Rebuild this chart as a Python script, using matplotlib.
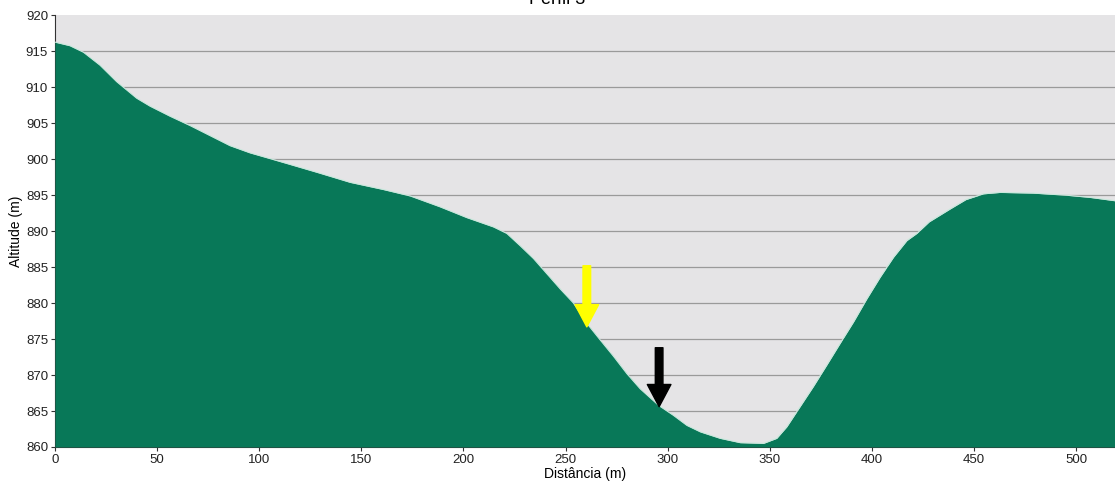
import numpy as np
import matplotlib.pyplot as plt

plt.rcParams['font.family'] = ['Liberation Sans', 'DejaVu Sans']

# elevation profile
distancia = [0, 7.3, 13.9, 22, 30.2, 40, 46.5, 56.3, 66.1, 75.9, 85.7, 95.5, 105.3,
             115, 128.2, 144.5, 160.8, 174, 188.5, 201.6, 214.7, 221.2, 227.7,
             234.3, 240.8, 247.3, 253.9, 260.4, 266.9, 273.5, 280, 286.5, 295.5,
             302.8, 309.4, 316, 325.7, 335.5, 346.9, 353.4, 358.3, 364.8, 371.3,
             377.9, 384.4, 391, 397.5, 404, 410.6, 417.1, 422, 428, 438.3, 446,
             454.6, 462.8, 479, 495.5, 506.9, 520]
altitude = [916.3, 915.8, 914.9, 913.1, 910.8, 908.5, 907.4, 906.0, 904.7, 903.3,
            901.9, 900.9, 900.1, 899.3, 898.2, 896.8, 895.8, 894.9, 893.4, 891.9,
            890.6, 889.7, 888.0, 886.2, 884.1, 882.0, 880.0, 877.2, 874.9, 872.6,
            870.2, 868.1, 865.8, 864.4, 863.0, 862.1, 861.2, 860.6, 860.5, 861.2,
            862.8, 865.6, 868.4, 871.4, 874.4, 877.4, 880.6, 883.6, 886.4, 888.7,
            889.7, 891.3, 893.1, 894.4, 895.2, 895.4, 895.3, 895.0, 894.7, 894.2]

# markers pointing at the slope: (distance, top, tip)
seta_amarela = (260.4, 885.2, 876.7)
seta_preta = (295.8, 873.8, 865.6)

xticks = [0, 50, 100, 150, 200, 250, 300, 350, 400, 450, 500]
yticks = [860, 865, 870, 875, 880, 885, 890, 895, 900, 905, 910, 915, 920]

fig = plt.figure(figsize=(11.15, 4.92), dpi=100)
ax = fig.add_axes([0.0493, 0.0915, 0.9507, 0.877])
ax.set_facecolor('#e5e4e6')

ax.fill_between(distancia, altitude, 860, color='#087858', lw=0, zorder=3)
ax.plot(distancia, altitude, color='#c8e8dc', lw=0.8, zorder=3,
        solid_joinstyle='round')

for y in yticks[1:-1]:
    ax.axhline(y, color='#9a9a9a', lw=0.9, zorder=1)

for (x, topo, ponta), cor in [(seta_amarela, '#ffff00'), (seta_preta, '#000000')]:
    ax.annotate('', xy=(x, ponta), xytext=(x, topo),
                arrowprops=dict(facecolor=cor, edgecolor=cor, width=5.5,
                                headwidth=17, headlength=16, shrink=0),
                zorder=5)

ax.set_xlim(0, 519)
ax.set_ylim(860, 920)
ax.set_xticks(xticks)
ax.set_yticks(yticks)
ax.tick_params(labelsize=9.5, length=3, color='#333333', labelcolor='#222222',
               pad=2)
for s in ['top', 'right']:
    ax.spines[s].set_visible(False)
for s in ['left', 'bottom']:
    ax.spines[s].set_color('#333333')

ax.set_xlabel('Distância (m)', fontsize=10, labelpad=1)
ax.set_ylabel('Altitude (m)', fontsize=10, labelpad=2)
fig.text(0.5, 1.0, 'Perfil 3', ha='center', va='center', fontsize=13)

fig.savefig('out.png', dpi=100)
